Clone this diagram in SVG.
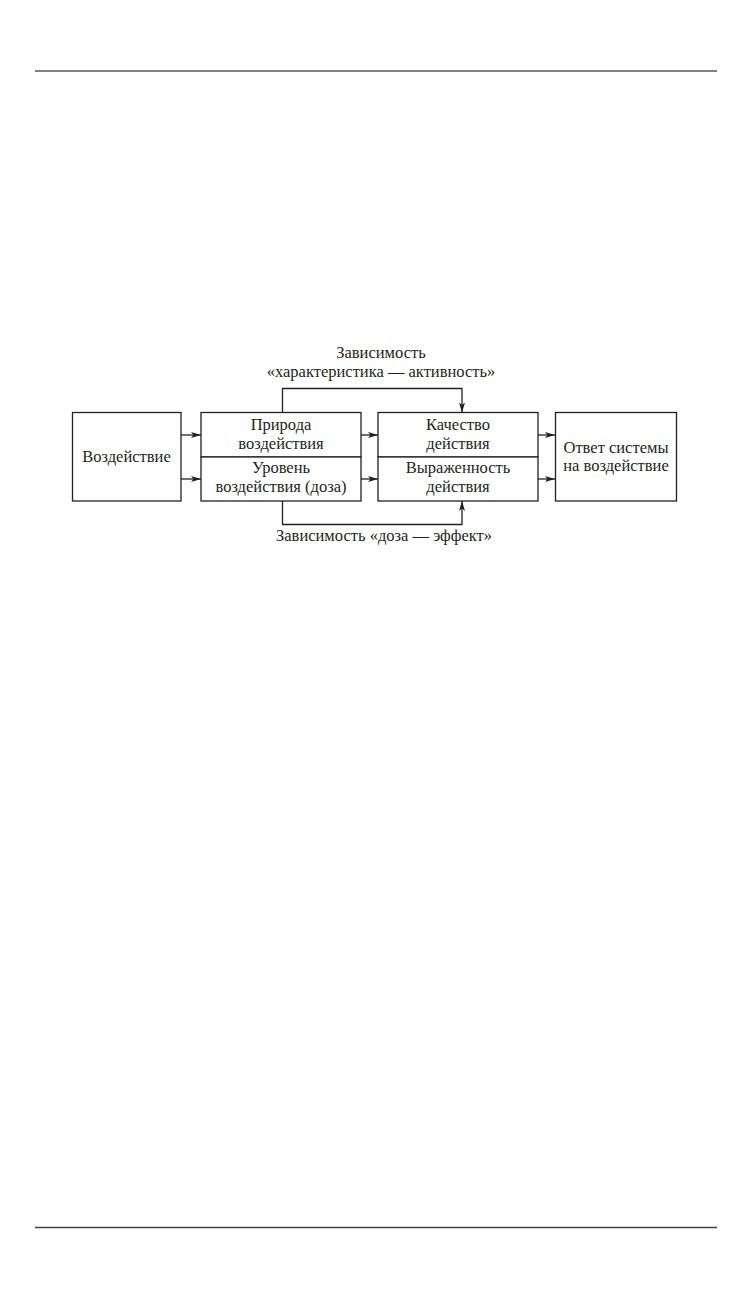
<svg xmlns="http://www.w3.org/2000/svg" width="756" height="1294" viewBox="0 0 756 1294">
<defs>
<style>
.b{fill:#fff;stroke:#231f20;stroke-width:1.3}
.l{fill:none;stroke:#231f20;stroke-width:1.3}
text{font-family:"Liberation Serif","Times New Roman",serif;font-size:16.5px;fill:#231f20;text-anchor:middle}
</style>
<marker id="a" viewBox="0 0 10 6" refX="10" refY="3" markerWidth="10" markerHeight="6" markerUnits="userSpaceOnUse" orient="auto">
<path d="M0,0 L10,3 L0,6 L2.5,3 Z" fill="#231f20"/>
</marker>
</defs>
<rect width="756" height="1294" fill="#fff"/>
<line x1="35" y1="71" x2="717" y2="71" stroke="#000" stroke-width="1.2"/>
<line x1="35" y1="1227.5" x2="717" y2="1227.5" stroke="#444" stroke-width="1.3"/>
<g id="connectors">
<line class="l" x1="181" y1="435" x2="201" y2="435" marker-end="url(#a)"/>
<line class="l" x1="181" y1="479" x2="201" y2="479" marker-end="url(#a)"/>
<line class="l" x1="361" y1="435" x2="378" y2="435" marker-end="url(#a)"/>
<line class="l" x1="361" y1="479" x2="378" y2="479" marker-end="url(#a)"/>
<line class="l" x1="538" y1="435" x2="555" y2="435" marker-end="url(#a)"/>
<line class="l" x1="538" y1="479" x2="555" y2="479" marker-end="url(#a)"/>
<polyline class="l" points="282.5,412.5 282.5,388.5 462,388.5 462,412.5" marker-end="url(#a)"/>
<polyline class="l" points="282.5,501 282.5,524.5 462,524.5 462,501" marker-end="url(#a)"/>
</g>
<g id="n1"><rect class="b" x="72.5" y="412.5" width="108.5" height="88.5"/><text x="126.5" y="462">Воздействие</text></g>
<g id="n2"><rect class="b" x="201" y="412.5" width="160" height="44.5"/><text x="281" y="430">Природа</text><text x="281" y="449">воздействия</text></g>
<g id="n3"><rect class="b" x="201" y="457" width="160" height="44"/><text x="281" y="473">Уровень</text><text x="281" y="492">воздействия (доза)</text></g>
<g id="n4"><rect class="b" x="378" y="412.5" width="160" height="44.5"/><text x="458" y="430">Качество</text><text x="458" y="449">действия</text></g>
<g id="n5"><rect class="b" x="378" y="457" width="160" height="44"/><text x="458" y="473">Выраженность</text><text x="458" y="492">действия</text></g>
<g id="n6"><rect class="b" x="555.5" y="412.5" width="121" height="88.5"/><text x="616" y="453">Ответ системы</text><text x="616" y="471">на воздействие</text></g>
<g id="labels">
<text x="381" y="358">Зависимость</text>
<text x="381" y="377">«характеристика — активность»</text>
<text x="384" y="541">Зависимость «доза — эффект»</text>
</g>
</svg>
